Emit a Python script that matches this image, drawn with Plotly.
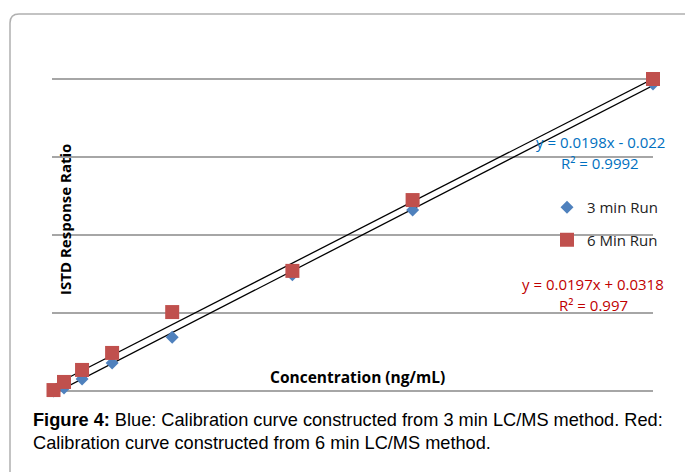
import plotly.graph_objects as go

# ---- data ----
conc = [0.25, 2, 5, 10, 20, 40, 60, 100]
run3 = [0.0, 0.02, 0.077, 0.18, 0.345, 0.745, 1.16, 1.968]
run6 = [0.006, 0.058, 0.135, 0.244, 0.506, 0.77, 1.224, 2.0]
series_names = ["3 min Run", "6 Min Run"]
slopes = [0.0198, 0.0197]
intercepts = [-0.022, 0.0318]
eq_lines = ["y = 0.0198x - 0.022", "y = 0.0197x + 0.0318"]
r2_lines = ["R² = 0.9992", "R² = 0.997"]
x_title = "Concentration (ng/mL)"
y_title = "ISTD Response Ratio"
caption_lines = ["<b>Figure 4:</b> Blue: Calibration curve constructed from 3 min LC/MS method. Red:",
                 "Calibration curve constructed from 6 min LC/MS method."]

W, H = 685, 472
BLUE, RED = "#4F81BD", "#C0504D"
CFONT = "Open Sans"

def px(x):
    return x / W

def py(y):
    return 1 - y / H

fig = go.Figure()

# trendlines
xs = [min(conc), max(conc)]
for s, b in zip(slopes, intercepts):
    fig.add_trace(go.Scatter(x=xs, y=[s * v + b for v in xs], mode="lines",
                             line=dict(color="black", width=1.3), showlegend=False,
                             hoverinfo="skip"))

fig.add_trace(go.Scatter(x=conc, y=run3, mode="markers", name=series_names[0],
                         marker=dict(symbol="diamond", size=10, color=BLUE),
                         cliponaxis=False, legendgroup="a"))
fig.add_trace(go.Scatter(x=conc, y=run6, mode="markers", name=series_names[1],
                         marker=dict(symbol="square", size=14, color=RED),
                         cliponaxis=False, legendgroup="b"))

# plot area geometry (pixels)
x0px, x1px = 52, 653
y0px = 391            # value 0
ppu = 156             # pixels per unit on y
ymax = 2.05
ytop = y0px - ymax * ppu

fig.update_layout(
    width=W, height=H,
    margin=dict(l=0, r=0, t=0, b=0),
    paper_bgcolor="white", plot_bgcolor="white",
    xaxis=dict(domain=[px(x0px), px(x1px)], range=[0, 100], showgrid=False,
               zeroline=False, showticklabels=False, showline=False, ticks=""),
    yaxis=dict(domain=[py(y0px), py(ytop)], range=[0, ymax], dtick=0.5, tick0=0,
               showgrid=True, gridcolor="#a6a6a6", gridwidth=1.5,
               zeroline=True, zerolinecolor="#a6a6a6", zerolinewidth=1.5,
               showticklabels=False, showline=False, ticks=""),
    legend=dict(x=px(547), y=py(191), xanchor="left", yanchor="top",
                font=dict(family=CFONT, size=15, color="#222"),
                tracegroupgap=10, traceorder="grouped", bgcolor="rgba(0,0,0,0)",
                itemwidth=30),
    showlegend=True,
    font=dict(family=CFONT),
)

# rounded frame
r = 9
L, T = 10, 14
Rr, B = 720, 500
path = (f"M {px(L)} {py(B)} L {px(L)} {py(T + r)} Q {px(L)} {py(T)} {px(L + r)} {py(T)} "
        f"L {px(Rr)} {py(T)}")
fig.add_shape(type="path", path=path, xref="paper", yref="paper",
              line=dict(color="#b0b0b0", width=1.5))

def note(text, x, y, size, color="black", family=CFONT, xanchor="center", angle=0):
    fig.add_annotation(text=text, x=px(x), y=py(y), xref="paper", yref="paper",
                       xanchor=xanchor, yanchor="middle", showarrow=False, textangle=angle,
                       font=dict(family=family, size=size, color=color))

# axis titles inside plot
note(f"<b>{x_title}</b>", 357, 377, 15.5)
note(f"<b>{y_title}</b>", 65, 220, 15, angle=-90)

# trendline equations
note(eq_lines[0], 600, 142, 15, "#0070C0")
note(r2_lines[0], 600, 163, 15, "#0070C0")
note(eq_lines[1], 593, 284, 15, "#C00000")
note(r2_lines[1], 593, 305, 15, "#C00000")

# caption
note(caption_lines[0], 31, 420, 18.2, family="Liberation Sans, Arial", xanchor="left")
note(caption_lines[1], 31, 443, 18.2, family="Liberation Sans, Arial", xanchor="left")

fig.write_html("out.html", post_script="document.body.style.margin='0px';",
               config={"displayModeBar": False})
